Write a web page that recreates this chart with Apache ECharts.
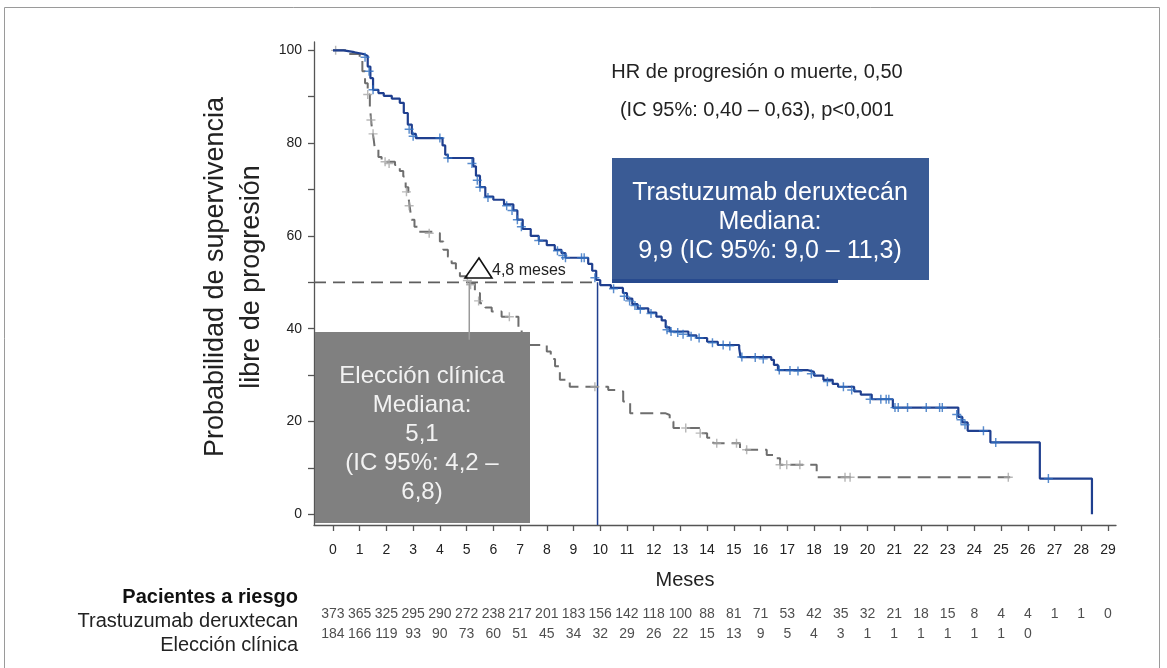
<!DOCTYPE html>
<html>
<head>
<meta charset="utf-8">
<title>Supervivencia libre de progresión</title>
<script src="https://cdn.jsdelivr.net/npm/echarts@6/dist/echarts.min.js"></script>
<style>
  html, body { margin: 0; padding: 0; background: #fff; }
  #chart { width: 1167px; height: 668px; }
</style>
</head>
<body>
<div id="chart"></div>
<script>
// ejes
const mesesTicks = [0, 1, 2, 3, 4, 5, 6, 7, 8, 9, 10, 11, 12, 13, 14, 15, 16, 17, 18, 19, 20, 21, 22, 23, 24, 25, 26, 27, 28, 29]
const probTicks = [0, 10, 20, 30, 40, 50, 60, 70, 80, 90, 100]
const probLabels = [0, 20, 40, 60, 80, 100]

// Kaplan-Meier Trastuzumab deruxtecán  [mes, %]  (escalón al final)
const kmTD = [
  [0, 100], [0.4, 99.6], [0.8, 99.2], [1.15, 98.8], [1.3, 96.5], [1.4, 94], [1.5, 91.5], [1.7, 90.8],
  [1.9, 90.2], [2.2, 89.6], [2.5, 88.7], [2.65, 86.5], [2.8, 84], [2.95, 82], [3.1, 81.1], [4.1, 79.5],
  [4.2, 77.5], [4.3, 76.8], [5.25, 75], [5.35, 73], [5.5, 70.5], [5.7, 68.5], [6.0, 67.8], [6.4, 66.8],
  [6.75, 65.5], [6.9, 63.5], [7.1, 61.5], [7.4, 60], [7.7, 59], [8.0, 58], [8.3, 57], [8.55, 56.3],
  [8.7, 55.3], [9.55, 54], [9.7, 52.5], [9.85, 50.5], [10.0, 49.4], [10.4, 48.8], [10.85, 47.7],
  [11.0, 46.5], [11.2, 45.3], [11.4, 44.4], [11.8, 43.5], [12.1, 42.6], [12.3, 41.8], [12.45, 40.3],
  [12.6, 39.4], [13.3, 38.6], [13.6, 38], [14.0, 37.2], [14.4, 36.5], [15.2, 35.8], [15.25, 33.9],
  [16.4, 33.3], [16.5, 32.2], [16.65, 31.1], [17.75, 30.7], [18.0, 29.9], [18.35, 29], [18.7, 28.1],
  [18.9, 27.5], [19.5, 26.5], [19.75, 25.8], [20.16, 24.8], [20.95, 23.0], [23.4, 21], [23.55, 19.8],
  [23.75, 18.0], [24.6, 15.5], [26.45, 7.7], [28.4, 0]
]
const censTD = [
  [1.2, 98.5], [1.35, 95.5], [1.5, 91.5], [2.85, 83], [3.0, 81.5], [4.0, 81.1], [4.3, 76.8], [5.2, 75.6],
  [5.4, 72], [5.5, 70.5], [5.8, 68.3], [6.5, 66.5], [6.7, 65.5], [6.9, 63.5], [7.05, 62], [7.7, 59],
  [8.4, 56.8], [8.6, 55.8], [8.7, 55.3], [9.3, 55.3], [9.4, 55.3], [9.8, 51], [10.5, 48.6], [10.9, 47],
  [11.1, 46], [11.3, 45], [11.5, 44.2], [11.9, 43.3], [12.5, 39.8], [12.65, 39.4], [12.9, 39.2],
  [13.1, 38.8], [13.4, 38.4], [13.7, 38], [14.2, 37], [14.6, 36.5], [14.85, 36.3], [15.3, 33.9],
  [15.8, 33.8], [16.1, 33.5], [16.7, 31.1], [17.1, 31], [17.4, 30.9], [17.9, 30.3], [18.5, 28.6],
  [19.1, 27.5], [19.41, 26.8], [20.1, 24.8], [20.5, 24.8], [20.7, 24.8], [20.8, 24.8], [21.03, 23.0],
  [21.15, 23.0], [21.5, 23.0], [22.2, 23.0], [22.7, 23.0], [22.8, 23.0], [23.34, 21.5], [23.5, 20.4],
  [23.65, 19.3], [24.34, 18.0], [24.8, 15.5], [26.77, 7.7]
]

// Kaplan-Meier Elección clínica
const kmEC = [
  [0, 100], [0.5, 99.2], [1.0, 98], [1.1, 95.5], [1.2, 92.9], [1.3, 90.5], [1.38, 87.9], [1.45, 83.6],
  [1.52, 81], [1.57, 78.6], [1.7, 77], [1.82, 76], [2.32, 75.3], [2.5, 74], [2.63, 72.8], [2.72, 70.5],
  [2.82, 68.5], [2.88, 66], [2.94, 63.5], [3.05, 62], [3.19, 60.9], [3.88, 60.6], [4.0, 58.8], [4.13, 57],
  [4.3, 55.5], [4.44, 54.1], [4.6, 52.7], [4.75, 51.3], [5.0, 50.6], [5.13, 49.8], [5.31, 47.7],
  [5.5, 45.5], [5.7, 44.6], [5.94, 43.7], [6.31, 42.6], [6.94, 40.2], [7.06, 38], [7.31, 36.5],
  [8.0, 35.1], [8.15, 33.5], [8.31, 31.9], [8.49, 29], [8.86, 27.5], [10.3, 26.8], [10.6, 26.5],
  [10.86, 24.3], [11.12, 21.8], [12.43, 21.4], [12.6, 20], [12.74, 18.6], [13.74, 17.5], [14.0, 16.5],
  [14.23, 15.3], [15.23, 13.9], [16.23, 12.8], [16.48, 12.1], [16.73, 10.7], [18.1, 8.0], [25.34, 8.0]
]
const censEC = [
  [0.1, 100], [1.3, 90.5], [1.42, 85], [1.5, 82], [1.95, 76], [2.1, 75.6], [2.75, 69.5], [2.85, 66.5],
  [3.6, 60.6], [5.03, 50.4], [5.15, 49.5], [5.45, 46], [6.6, 42.6], [7.15, 37.5], [9.8, 27.5],
  [13.2, 18.6], [13.74, 17.5], [14.36, 15.3], [15.1, 15.3], [15.48, 13.9], [16.73, 10.7], [16.98, 10.7],
  [17.47, 10.7], [19.16, 8.0], [19.35, 8.0], [25.27, 8.0]
]

const medianaTD = 9.9
const medianaEC = 5.1

// pacientes a riesgo por mes
const riesgoTD = [373, 365, 325, 295, 290, 272, 238, 217, 201, 183, 156, 142, 118, 100, 88, 81, 71, 53, 42, 35, 32, 21, 18, 15, 8, 4, 4, 1, 1, 0]
const riesgoEC = [184, 166, 119, 93, 90, 73, 60, 51, 45, 34, 32, 29, 26, 22, 15, 13, 9, 5, 4, 3, 1, 1, 1, 1, 1, 1, 0]
const filasRiesgo = ['Elección clínica', 'Trastuzumab deruxtecan']

const X_MIN = -0.71, X_MAX = 29.3
const Y_MIN = -2.3, Y_MAX = 101.8
const FONT = '"Liberation Sans", Arial, sans-serif'
const AZUL = '#1f3f8f'
const GRIS = '#6e6e6e'

const cruz = 'path://M4.2,0h1.6v4.2h4.2v1.6h-4.2v4.2h-1.6v-4.2h-4.2v-1.6h4.2z'

const datosRiesgo = []
riesgoTD.forEach((n, i) => datosRiesgo.push([mesesTicks[i], filasRiesgo[1], n]))
riesgoEC.forEach((n, i) => datosRiesgo.push([mesesTicks[i], filasRiesgo[0], n]))

var myChart = echarts.init(document.getElementById('chart'))

var option = {
  animation: false,
  backgroundColor: '#fff',
  textStyle: { fontFamily: FONT },
  grid: [
    { left: 314, top: 42, width: 802, height: 483, outerBoundsMode: 'none' },
    { left: 314, top: 604, width: 802, height: 40, outerBoundsMode: 'none' },
  ],
  xAxis: [
    {
      type: 'value',
      gridIndex: 0,
      min: X_MIN,
      max: X_MAX,
      splitLine: { show: false },
      axisLine: { show: true, onZero: false, lineStyle: { color: '#555', width: 1.3 } },
      axisTick: { show: true, length: 6, customValues: mesesTicks, lineStyle: { color: '#555', width: 1.3 } },
      axisLabel: { customValues: mesesTicks, fontSize: 14, color: '#222', margin: 18 },
    },
    { type: 'value', gridIndex: 1, min: X_MIN, max: X_MAX, show: false },
  ],
  yAxis: [
    {
      type: 'value',
      gridIndex: 0,
      min: Y_MIN,
      max: Y_MAX,
      splitLine: { show: false },
      axisLine: { show: true, onZero: false, lineStyle: { color: '#555', width: 1.3 } },
      axisTick: { show: true, length: 6, customValues: probTicks, lineStyle: { color: '#555', width: 1.3 } },
      axisLabel: { customValues: probLabels, fontSize: 14, color: '#222', margin: 12 },
    },
    { type: 'category', gridIndex: 1, data: filasRiesgo, show: false },
  ],
  series: [
    {
      name: 'Mediana 50%',
      type: 'line',
      symbol: 'none',
      silent: true,
      lineStyle: { color: '#5e5e5e', width: 1.8, type: [12, 7] },
      data: [[X_MIN, 50], [medianaTD, 50]],
    },
    {
      name: 'Mediana TD',
      type: 'line',
      symbol: 'none',
      silent: true,
      lineStyle: { color: AZUL, width: 1.5 },
      data: [[medianaTD, 50], [medianaTD, Y_MIN]],
    },
    {
      name: 'Elección clínica',
      type: 'line',
      step: 'end',
      symbol: 'none',
      silent: true,
      z: 3,
      lineStyle: { color: GRIS, width: 2, type: [13, 7] },
      data: kmEC,
    },
    {
      name: 'Censura EC',
      type: 'scatter',
      symbol: cruz,
      symbolSize: 9,
      silent: true,
      z: 4,
      itemStyle: { color: '#a6a6a6' },
      data: censEC,
    },
    {
      name: 'Trastuzumab deruxtecán',
      type: 'line',
      step: 'end',
      symbol: 'none',
      silent: true,
      z: 5,
      lineStyle: { color: AZUL, width: 2.2 },
      data: kmTD,
    },
    {
      name: 'Censura TD',
      type: 'scatter',
      symbol: cruz,
      symbolSize: 9,
      silent: true,
      z: 6,
      itemStyle: { color: '#2f6fc0' },
      data: censTD,
    },
    {
      name: 'Mediana EC',
      type: 'line',
      symbol: 'none',
      silent: true,
      z: 12,
      lineStyle: { color: '#9a9a9a', width: 1.5 },
      data: [[medianaEC, 50], [medianaEC, 37.6]],
    },
    {
      name: 'Pacientes a riesgo',
      type: 'scatter',
      xAxisIndex: 1,
      yAxisIndex: 1,
      symbolSize: 1,
      silent: true,
      itemStyle: { color: 'rgba(0,0,0,0)' },
      label: {
        show: true,
        position: 'inside',
        formatter: (p) => p.value[2],
        fontSize: 14,
        color: '#222',
      },
      data: datosRiesgo,
    },
  ],
  graphic: [
    {
      type: 'rect',
      z: 0,
      shape: { x: 4.5, y: 7.5, width: 1155, height: 700 },
      style: { fill: 'none', stroke: '#9a9a9a', lineWidth: 1 },
    },
    {
      type: 'text',
      x: 234,
      y: 277,
      rotation: Math.PI / 2,
      style: {
        text: 'Probabilidad de supervivencia\nlibre de progresión',
        font: '27px ' + FONT,
        fill: '#222',
        align: 'center',
        verticalAlign: 'middle',
        lineHeight: 36,
      },
    },
    {
      type: 'text',
      x: 757,
      y: 91,
      style: {
        text: 'HR de progresión o muerte, 0,50\n(IC 95%: 0,40 – 0,63), p<0,001',
        font: '20px ' + FONT,
        fill: '#222',
        align: 'center',
        verticalAlign: 'middle',
        lineHeight: 38,
      },
    },
    // recuadro azul
    {
      type: 'rect',
      z: 10,
      shape: { x: 612, y: 158, width: 317, height: 122 },
      style: { fill: '#3a5b95' },
    },
    {
      type: 'rect',
      z: 10,
      shape: { x: 612, y: 279, width: 226, height: 4 },
      style: { fill: '#274a8e' },
    },
    {
      type: 'text',
      z: 11,
      x: 770,
      y: 222,
      style: {
        text: 'Trastuzumab deruxtecán\nMediana:\n9,9 (IC 95%: 9,0 – 11,3)',
        font: '25px ' + FONT,
        fill: '#fff',
        align: 'center',
        verticalAlign: 'middle',
        lineHeight: 29,
      },
    },
    // recuadro gris
    {
      type: 'rect',
      z: 10,
      shape: { x: 315, y: 332, width: 215, height: 191 },
      style: { fill: '#808080' },
    },
    {
      type: 'text',
      z: 11,
      x: 422,
      y: 434,
      style: {
        text: 'Elección clínica\nMediana:\n5,1\n(IC 95%: 4,2 –\n6,8)',
        font: '24px ' + FONT,
        fill: '#f2f2f2',
        align: 'center',
        verticalAlign: 'middle',
        lineHeight: 29,
      },
    },
    // delta 4,8 meses
    {
      type: 'polygon',
      z: 11,
      shape: { points: [[465, 278], [479, 258], [492, 278]] },
      style: { fill: 'none', stroke: '#111', lineWidth: 1.6 },
    },
    {
      type: 'text',
      z: 11,
      x: 492,
      y: 271,
      style: { text: '4,8 meses', font: '16px ' + FONT, fill: '#222', align: 'left', verticalAlign: 'middle' },
    },
    {
      type: 'text',
      x: 685,
      y: 580,
      style: { text: 'Meses', font: '20px ' + FONT, fill: '#222', align: 'center', verticalAlign: 'middle' },
    },
    {
      type: 'text',
      x: 298,
      y: 597,
      style: { text: 'Pacientes a riesgo', font: 'bold 20px ' + FONT, fill: '#111', align: 'right', verticalAlign: 'middle' },
    },
    {
      type: 'text',
      x: 298,
      y: 621,
      style: { text: 'Trastuzumab deruxtecan', font: '20px ' + FONT, fill: '#222', align: 'right', verticalAlign: 'middle' },
    },
    {
      type: 'text',
      x: 298,
      y: 645,
      style: { text: 'Elección clínica', font: '20px ' + FONT, fill: '#222', align: 'right', verticalAlign: 'middle' },
    },
  ],
}

option && myChart.setOption(option)
window.addEventListener('resize', function () {
  myChart.resize()
})
</script>
</body>
</html>
